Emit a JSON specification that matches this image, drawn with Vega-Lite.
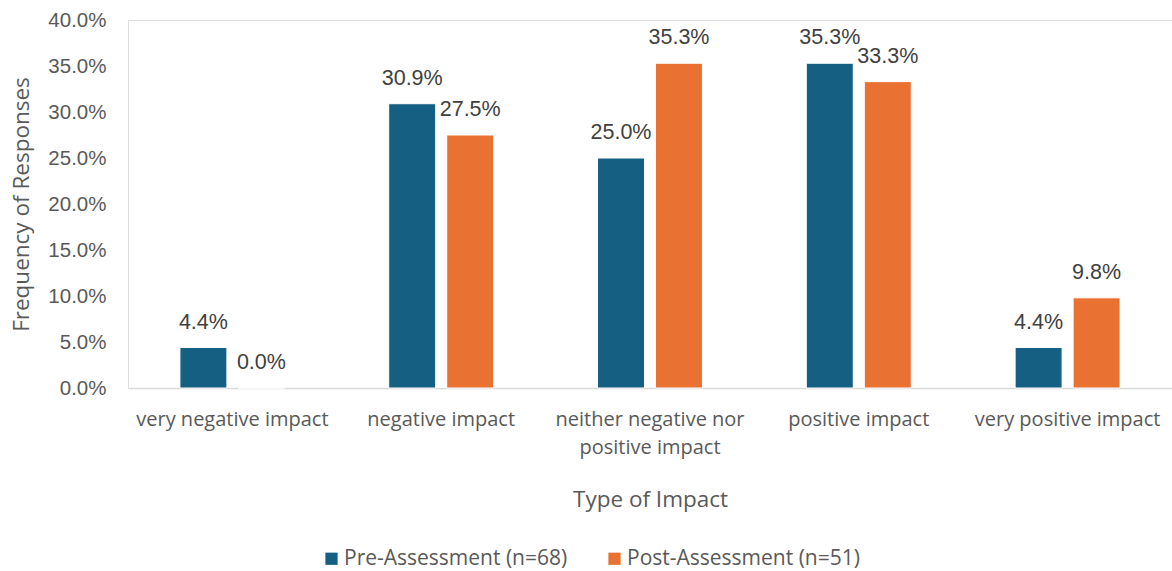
{
  "$schema": "https://vega.github.io/schema/vega-lite/v6.json",
  "autosize": {"type": "none"},
  "width": 1044,
  "height": 368,
  "padding": {"left": 128, "top": 20, "right": 0, "bottom": 183},
  "background": "white",
  "data": {
    "values": [
      {"impact": "very negative impact", "group": "Pre-Assessment (n=68)", "share": 0.044},
      {"impact": "very negative impact", "group": "Post-Assessment (n=51)", "share": 0.0},
      {"impact": "negative impact", "group": "Pre-Assessment (n=68)", "share": 0.309},
      {"impact": "negative impact", "group": "Post-Assessment (n=51)", "share": 0.275},
      {"impact": "neither negative nor positive impact", "group": "Pre-Assessment (n=68)", "share": 0.25},
      {"impact": "neither negative nor positive impact", "group": "Post-Assessment (n=51)", "share": 0.353},
      {"impact": "positive impact", "group": "Pre-Assessment (n=68)", "share": 0.353},
      {"impact": "positive impact", "group": "Post-Assessment (n=51)", "share": 0.333},
      {"impact": "very positive impact", "group": "Pre-Assessment (n=68)", "share": 0.044},
      {"impact": "very positive impact", "group": "Post-Assessment (n=51)", "share": 0.098}
    ]
  },
  "encoding": {
    "x": {
      "field": "impact",
      "type": "nominal",
      "sort": null,
      "scale": {"paddingInner": 0, "paddingOuter": 0},
      "axis": {
        "title": "Type of Impact",
        "titleFont": "Open Sans",
        "titleFontSize": 22.5,
        "titleFontWeight": "normal",
        "titleColor": "#595959",
        "titlePadding": 31,
        "labelAngle": 0,
        "labelFont": "Open Sans",
        "labelFontSize": 20,
        "labelColor": "#595959",
        "labelPadding": 21,
        "labelLimit": 400,
        "labelLineHeight": 28,
        "labelExpr": "datum.label == 'neither negative nor positive impact' ? ['neither negative nor', 'positive impact'] : datum.label",
        "ticks": false,
        "domainColor": "#d9d9d9",
        "domainWidth": 1.5,
        "grid": false
      }
    },
    "xOffset": {
      "field": "group",
      "type": "nominal",
      "sort": ["Pre-Assessment (n=68)", "Post-Assessment (n=51)"],
      "scale": {"paddingInner": 0.19, "paddingOuter": 0.895}
    },
    "y": {
      "field": "share",
      "type": "quantitative",
      "scale": {"domain": [0, 0.4]},
      "axis": {
        "title": "Frequency of Responses",
        "titleFont": "Open Sans",
        "titleFontSize": 22.5,
        "titleFontWeight": "normal",
        "titleColor": "#595959",
        "titlePadding": 14,
        "format": ".1%",
        "values": [0, 0.05, 0.1, 0.15, 0.2, 0.25, 0.3, 0.35, 0.4],
        "labelOverlap": false,
        "labelFont": "Liberation Sans",
        "labelFontSize": 20.5,
        "labelColor": "#595959",
        "labelPadding": 22,
        "ticks": false,
        "domain": false,
        "grid": false
      }
    }
  },
  "layer": [
    {
      "mark": {"type": "bar", "stroke": "white", "strokeWidth": 1},
      "encoding": {
        "color": {
          "field": "group",
          "type": "nominal",
          "sort": ["Pre-Assessment (n=68)", "Post-Assessment (n=51)"],
          "scale": {"range": ["#156082", "#E97132"]},
          "legend": {
            "title": null,
            "orient": "none",
            "direction": "horizontal",
            "legendX": 193,
            "legendY": 528,
            "symbolType": "square",
            "symbolSize": 150,
            "symbolStrokeWidth": 0,
            "labelFont": "Open Sans",
            "labelFontSize": 21,
            "labelColor": "#595959",
            "labelOffset": 2,
            "columnPadding": 36,
            "labelLimit": 400
          }
        }
      }
    },
    {
      "mark": {
        "type": "text",
        "baseline": "alphabetic",
        "dy": -19,
        "font": "Liberation Sans",
        "fontSize": 21.5,
        "fill": "#404040"
      },
      "encoding": {
        "text": {"field": "share", "type": "quantitative", "format": ".1%"}
      }
    }
  ]
}
